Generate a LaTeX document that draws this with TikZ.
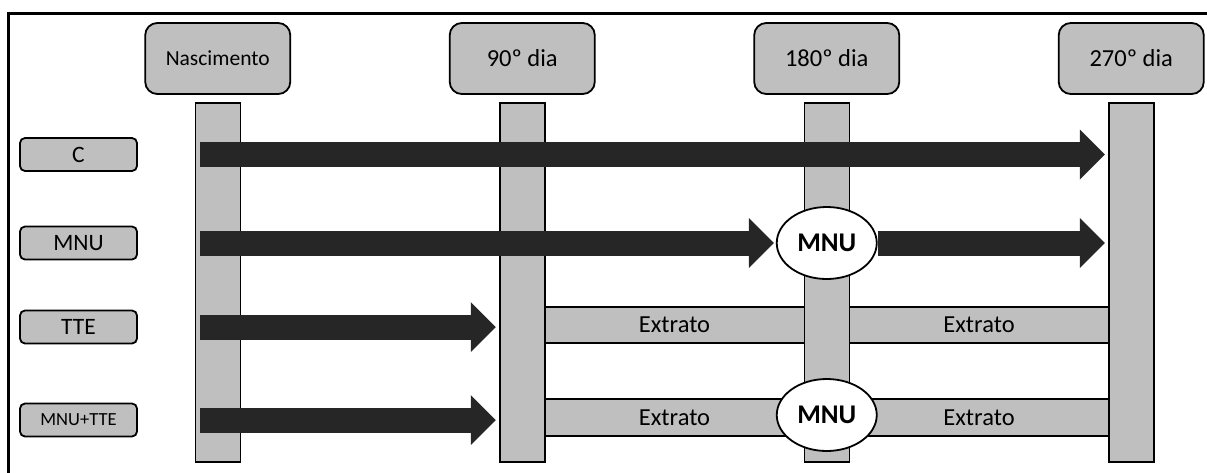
\documentclass[tikz,border=0pt]{standalone}
\usepackage{fontspec}
\setmainfont{Carlito}
\usepackage{tikz}
\usetikzlibrary{%
  matrix,%
  calc,%
  fit,%
  shapes.geometric,%
  arrows.meta%
}
\definecolor{boxgray}{RGB}{191,191,191}
\definecolor{arrowgray}{RGB}{38,38,38}
\pgfdeclarelayer{back}
\pgfdeclarelayer{mid}
\pgfsetlayers{back,mid,main}

\begin{document}
\begin{tikzpicture}[x=1pt,y=-1pt,
  hdr/.style={draw,fill=boxgray,line width=1.8pt,rounded corners=12pt,minimum width=145pt,minimum height=71pt,inner sep=0pt,outer sep=0pt,anchor=center,font=\fontsize{24.5}{28}\selectfont},
  bar/.style={draw,fill=boxgray,line width=1.5pt,minimum width=45pt,minimum height=359pt,inner sep=0pt,outer sep=0pt,anchor=north},
  grp/.style={draw,fill=boxgray,line width=1.8pt,rounded corners=5pt,minimum width=117pt,minimum height=33pt,inner sep=0pt,font=\fontsize{23.5}{26}\selectfont},
  band/.style={draw,fill=boxgray,line width=1.5pt,inner sep=0pt,outer sep=0pt,label={[font=\fontsize{24.5}{28}\selectfont]center:Extrato}},
  dose/.style={ellipse,draw,fill=white,line width=1.8pt,minimum width=100pt,minimum height=72pt,inner sep=0pt,font=\fontsize{27}{30}\selectfont\bfseries},
  fat/.style={draw=arrowgray,line width=25pt,-{Triangle[length=25pt,width=50pt,line width=0pt]}}]

\useasboundingbox (0,0) rectangle (1207,472);
\draw[line width=3pt] (8,13) rectangle (1220,490);

\matrix[matrix of nodes,column sep={304.5pt,between origins},nodes={hdr}] (days) at (674.5,58.5)
{
|[name=nasc,font=\fontsize{21.5}{24}\selectfont]| Nascimento &|[name=d90]| 90º dia &|[name=d180]| 180º dia &|[name=d270]| 270º dia \\
};

\node[grp] (gC) at (78.5,154.5) {C};
\node[grp] (gM) at (78.5,243) {MNU};
\node[grp] (gT) at (78.5,327) {TTE};
\node[grp,font=\fontsize{18.5}{22}\selectfont] (gX) at (78.5,420) {MNU+TTE};

\begin{pgfonlayer}{back}
\node[bar] (b1) at ([yshift=-9pt]nasc.south) {};
\node[bar] (b2) at ([yshift=-9pt]d90.south) {};
\node[bar] (b3) at ([yshift=-9pt]d180.south) {};
\node[bar] (b4) at ([yshift=-9pt]d270.south) {};
% extrato
\node[band,fit={([yshift=20pt]gT -| b2.east) ([yshift=-16pt]gT -| b3.west)}] (eT1) {};
\node[band,fit={([yshift=20pt]gT -| b3.east) ([yshift=-16pt]gT -| b4.west)}] (eT2) {};
\node[band,fit={([yshift=21pt]gX -| b2.east) ([yshift=-16pt]gX -| b3.west)}] (eX1) {};
\node[band,fit={([yshift=21pt]gX -| b3.east) ([yshift=-16pt]gX -| b4.west)}] (eX2) {};
\end{pgfonlayer}

\node[dose] (mnuM) at (gM -| b3) {MNU};
\node[dose] (mnuX) at ([yshift=5pt]gX -| b3) {MNU};

\begin{pgfonlayer}{mid}
\draw[fat,shorten <=5pt,shorten >=4pt] (gC -| b1.west) -- (gC -| b4.west);
\draw[fat,shorten <=5pt,shorten >=2pt] (gM -| b1.west) -- (mnuM);
\draw[fat,shorten >=4pt] (mnuM) -- (gM -| b4.west);
\draw[fat,shorten <=5pt,shorten >=4pt] (gT -| b1.west) -- (gT -| b2.west);
\draw[fat,shorten <=5pt,shorten >=4pt] (gX -| b1.west) -- (gX -| b2.west);
\end{pgfonlayer}
\end{tikzpicture}
\end{document}
